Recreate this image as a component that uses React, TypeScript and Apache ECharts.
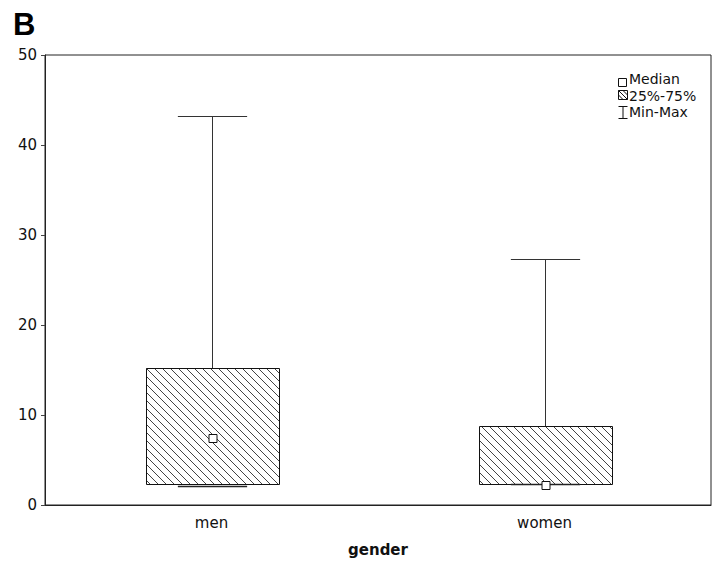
import React, { useEffect, useRef } from "react";
import * as echarts from "echarts";

const categories = ["men", "women"];
const minValues = [2.1, 2.3];
const q1Values = [2.3, 2.3];
const medianValues = [7.5, 2.2];
const q3Values = [15.2, 8.8];
const maxValues = [43.2, 27.3];
const yTicks = { min: 0, max: 50, interval: 10 };
const legendLabels = ["Median", "25%-75%", "Min-Max"];

const FONT = "DejaVu Sans";

export default function App() {
  const ref = useRef<HTMLDivElement>(null);
  useEffect(() => {
    if (!ref.current) return;
    document.body.style.margin = "0";
    const chart = echarts.init(ref.current, undefined, { renderer: "svg" });
    const data = categories.map((_, i) => [
      i,
      minValues[i],
      q1Values[i],
      medianValues[i],
      q3Values[i],
      maxValues[i],
    ]);

    const renderItem = (params: any, api: any) => {
      const idx = api.value(0);
      const pMin = api.coord([idx, api.value(1)]);
      const pQ1 = api.coord([idx, api.value(2)]);
      const pMed = api.coord([idx, api.value(3)]);
      const pQ3 = api.coord([idx, api.value(4)]);
      const pMax = api.coord([idx, api.value(5)]);
      const xC = Math.round(pMin[0]) + 0.5;
      const bw = api.size([1, 0])[0] * 0.4;
      const capW = bw * 0.52;
      const x0 = Math.round(xC - bw / 2) + 0.5;
      const x1 = Math.round(xC + bw / 2) + 0.5;
      const y0 = Math.round(pQ3[1]) + 0.5;
      const y1 = Math.round(pQ1[1]) + 0.5;
      const yMax = Math.round(pMax[1]) + 0.5;
      const yMin = Math.round(pMin[1]) + 0.5;
      const lineStyle = { stroke: "#333", lineWidth: 1 };
      const children: any[] = [];
      children.push({
        type: "line",
        shape: { x1: xC, y1: yMax, x2: xC, y2: y0 },
        style: lineStyle,
      });
      children.push({
        type: "line",
        shape: { x1: xC - capW / 2, y1: yMax, x2: xC + capW / 2, y2: yMax },
        style: lineStyle,
      });
      children.push({
        type: "rect",
        shape: { x: x0, y: y0, width: x1 - x0, height: y1 - y0 },
        style: { fill: "#fff", stroke: null },
      });
      const step = 8;
      const cStart = x0 - y1;
      const cEnd = x1 - y0;
      for (let c = cStart + step / 2; c < cEnd; c += step) {
        const xa = Math.max(x0, y0 + c);
        const xb = Math.min(x1, y1 + c);
        if (xb - xa > 0.5) {
          children.push({
            type: "line",
            shape: { x1: xa, y1: xa - c, x2: xb, y2: xb - c },
            style: { stroke: "#444", lineWidth: 1 },
          });
        }
      }
      children.push({
        type: "rect",
        shape: { x: x0, y: y0, width: x1 - x0, height: y1 - y0 },
        style: { fill: null, stroke: "#111", lineWidth: 1 },
      });
      children.push({
        type: "line",
        shape: { x1: xC - capW / 2, y1: yMin, x2: xC + capW / 2, y2: yMin },
        style: { stroke: "#222", lineWidth: 1.5 },
      });
      const ms = 8;
      const mx = Math.round(xC - ms / 2) + 0.5;
      const my = Math.round(pMed[1] - ms / 2) + 0.5;
      children.push({
        type: "rect",
        shape: { x: mx - 0.5, y: my, width: ms, height: ms },
        style: { fill: "#fff", stroke: "#111", lineWidth: 1 },
      });
      return { type: "group", children };
    };

    const lx = 618.5;
    const legendGraphics: any[] = [
      {
        type: "rect",
        shape: { x: lx, y: 78.5, width: 8, height: 8 },
        style: { fill: "#fff", stroke: "#111", lineWidth: 1 },
      },
      {
        type: "rect",
        shape: { x: lx, y: 90.5, width: 9, height: 9 },
        style: { fill: "#fff", stroke: "#111", lineWidth: 1 },
      },
      {
        type: "line",
        shape: { x1: lx, y1: 90.5, x2: lx + 9, y2: 99.5 },
        style: { stroke: "#111", lineWidth: 1 },
      },
      {
        type: "line",
        shape: { x1: lx, y1: 95, x2: lx + 4.5, y2: 99.5 },
        style: { stroke: "#111", lineWidth: 1 },
      },
      {
        type: "line",
        shape: { x1: lx + 4.5, y1: 90.5, x2: lx + 9, y2: 95 },
        style: { stroke: "#111", lineWidth: 1 },
      },
      {
        type: "line",
        shape: { x1: lx + 4.5, y1: 106.5, x2: lx + 4.5, y2: 118.5 },
        style: { stroke: "#111", lineWidth: 1 },
      },
      {
        type: "line",
        shape: { x1: lx, y1: 106.5, x2: lx + 9, y2: 106.5 },
        style: { stroke: "#111", lineWidth: 1 },
      },
      {
        type: "line",
        shape: { x1: lx, y1: 118.5, x2: lx + 9, y2: 118.5 },
        style: { stroke: "#111", lineWidth: 1 },
      },
    ];
    const textYs = [79, 95.5, 112];
    legendLabels.forEach((t, i) => {
      legendGraphics.push({
        type: "text",
        x: 629,
        y: textYs[i],
        style: {
          text: t,
          font: `14px "${FONT}"`,
          fill: "#111",
          textVerticalAlign: "middle",
          textAlign: "left",
        },
      });
    });
    legendGraphics.push({
      type: "text",
      x: 13,
      y: 24,
      style: {
        text: "B",
        font: `bold 31px "Liberation Sans"`,
        fill: "#000",
        textVerticalAlign: "middle",
        textAlign: "left",
      },
    });

    chart.setOption({
      animation: false,
      backgroundColor: "#fff",
      grid: {
        left: 45,
        right: 13,
        top: 55,
        bottom: 64,
        show: true,
        borderColor: "#222",
        borderWidth: 1,
        backgroundColor: "transparent",
      },
      xAxis: {
        type: "category",
        data: categories,
        boundaryGap: true,
        name: "gender",
        nameLocation: "middle",
        nameGap: 37,
        nameTextStyle: {
          fontFamily: FONT,
          fontWeight: "bold",
          fontSize: 15,
          color: "#111",
        },
        axisLine: { lineStyle: { color: "#222", width: 1 } },
        axisTick: {
          inside: true,
          length: 4,
          alignWithLabel: true,
          lineStyle: { color: "#444" },
        },
        axisLabel: { fontFamily: FONT, fontSize: 15, color: "#111", margin: 10 },
        splitLine: { show: false },
      },
      yAxis: {
        type: "value",
        min: yTicks.min,
        max: yTicks.max,
        interval: yTicks.interval,
        axisLine: { show: true, lineStyle: { color: "#222", width: 1 } },
        axisTick: { show: true, inside: false, length: 4, lineStyle: { color: "#444" } },
        axisLabel: { fontFamily: FONT, fontSize: 15, color: "#111", margin: 8 },
        splitLine: { show: false },
      },
      graphic: legendGraphics,
      series: [
        {
          type: "custom",
          renderItem,
          data,
          encode: { x: 0, y: [1, 2, 3, 4, 5] },
          clip: false,
        },
      ],
    });
    return () => chart.dispose();
  }, []);
  return <div ref={ref} style={{ width: 724, height: 569 }} />;
}
